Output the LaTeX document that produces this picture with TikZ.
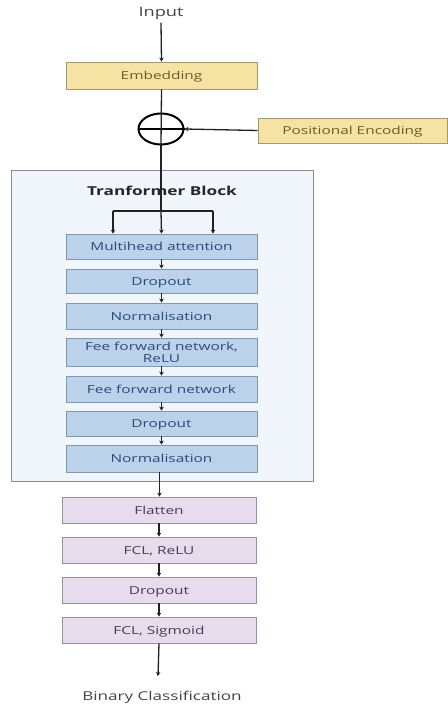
\documentclass[tikz,border=0pt]{standalone}
\usepackage{fontspec}
\setmainfont[FakeStretch=1.4]{Open Sans}
\usetikzlibrary{arrows.meta,shapes.geometric}
\definecolor{yfill}{HTML}{F5E3A3}
\definecolor{ydraw}{HTML}{A89868}
\definecolor{ytext}{HTML}{6B5A2A}
\definecolor{bfill}{HTML}{BCD2EA}
\definecolor{bdraw}{HTML}{7F98B2}
\definecolor{btext}{HTML}{2A4A7A}
\definecolor{pfill}{HTML}{E6DCEC}
\definecolor{pdraw}{HTML}{9A90A2}
\definecolor{ptext}{HTML}{4A3A5A}
\definecolor{blkfill}{HTML}{F0F6FC}
\definecolor{blkdraw}{HTML}{8C8C8C}
\definecolor{linec}{HTML}{222222}
\begin{document}
\begin{tikzpicture}[x=1pt,y=-1pt,
  boxfont/.style={font=\fontsize{11}{12}\selectfont},
  oneline/.style={text height=10pt,text depth=1.5pt},
  ybox/.style={draw=ydraw,fill=yfill,text=ytext,line width=0.8pt,inner sep=0pt,boxfont,oneline},
  bbox/.style={draw=bdraw,fill=bfill,text=btext,line width=0.8pt,inner sep=0pt,minimum width=191pt,boxfont,align=center},
  pbox/.style={draw=pdraw,fill=pfill,text=ptext,line width=0.8pt,inner sep=0pt,minimum width=194pt,minimum height=26pt,boxfont,oneline},
  conn/.style={draw=linec,line width=1.3pt},
  arr/.style={conn,-{Stealth[length=4pt,width=4.5pt]}},
  lbl/.style={text=linec!85}]
\useasboundingbox (0,0) rectangle (447,708);
% transformer block frame
\node[draw=blkdraw,fill=blkfill,line width=1pt,minimum width=302pt,minimum height=310pt,inner sep=0pt] (blk) at (162,326) {};
\node[font=\bfseries\fontsize{12.3}{13}\selectfont,text=black!85] (blktitle) at (162,191) {Tranformer Block};
% top part
\node[lbl,font=\fontsize{13}{14}\selectfont] (input) at (161,13) {Input};
\node[ybox,minimum width=191pt,minimum height=27pt] (emb) at (161.5,75.5) {Embedding};
\node[draw=black,line width=2pt,ellipse,minimum width=45pt,minimum height=31pt,inner sep=0pt] (plus) at (161,129) {};
\node[ybox,minimum width=189pt,minimum height=25pt] (pos) at (352.5,130.5) {Positional Encoding};
% transformer boxes
\node[bbox,oneline,minimum height=25pt] (mha) at (161.5,246.5) {Multihead attention};
\node[bbox,oneline,minimum height=24pt] (do1) at (161.5,281) {Dropout};
\node[bbox,oneline,minimum height=26pt] (n1) at (161.5,316) {Normalisation};
\node[bbox,minimum height=28pt] (ffr) at (161.5,352) {Fee forward network,\\ ReLU};
\node[bbox,oneline,minimum height=26pt] (ff) at (161.5,389) {Fee forward network};
\node[bbox,oneline,minimum height=25pt] (do2) at (161.5,423.5) {Dropout};
\node[bbox,oneline,minimum height=27pt] (n2) at (161.5,458.5) {Normalisation};
% head
\node[pbox] (flat) at (159,510) {Flatten};
\node[pbox] (fcl1) at (159,550) {FCL, ReLU};
\node[pbox] (do3) at (159,590) {Dropout};
\node[pbox] (fcl2) at (159,630) {FCL, Sigmoid};
\node[lbl,font=\fontsize{12.2}{13}\selectfont] (out) at (162,697) {Binary Classification};
\coordinate (outend) at (158,676);
% plus sign inside the circle
\draw[line width=1.8pt] (plus.west) -- (plus.east);
% connectors
\draw[arr] (input.south) -- (emb.north);
\draw[conn] (emb.south) -- (plus.south);
\draw[arr] (pos.west) -- (plus.east);
\coordinate (split) at (161,211);
\coordinate (splitL) at (113,211);
\coordinate (splitR) at (213,211);
\draw[conn] (plus.south) -- (split);
\draw[conn] (splitL) -- (splitR);
\draw[arr] (splitL) -- (splitL |- mha.north);
\draw[arr] (split) -- (mha.north);
\draw[arr] (splitR) -- (splitR |- mha.north);
\draw[arr] (mha.south) -- (do1.north);
\draw[arr] (do1.south) -- (n1.north);
\draw[arr] (n1.south) -- (ffr.north);
\draw[arr] (ffr.south) -- (ff.north);
\draw[arr] (ff.south) -- (do2.north);
\draw[arr] (do2.south) -- (n2.north);
\draw[arr] (n2.south) ++(-2,0) coordinate (n2s) -- (n2s |- flat.north);
\draw[arr] (flat.south) -- (fcl1.north);
\draw[arr] (fcl1.south) -- (do3.north);
\draw[arr] (do3.south) -- (fcl2.north);
\draw[arr] (fcl2.south) -- (outend);
\end{tikzpicture}
\end{document}
